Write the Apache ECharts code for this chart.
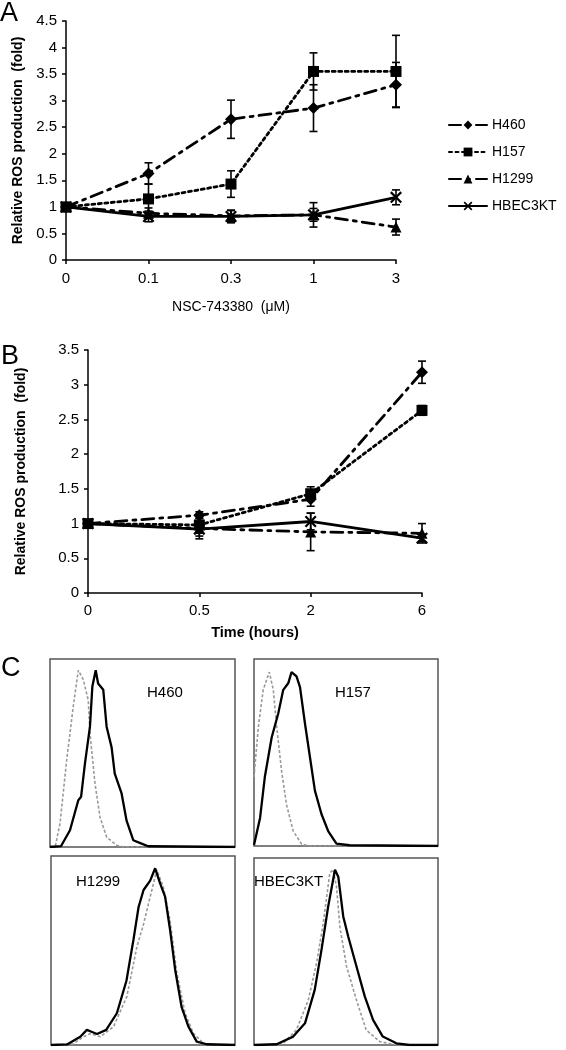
<!DOCTYPE html>
<html><head><meta charset="utf-8">
<script src="https://cdn.jsdelivr.net/npm/echarts@6/dist/echarts.min.js"></script>
<style>html,body{margin:0;padding:0;background:#fff}#c{width:566px;height:1050px}</style>
</head><body><div id="c"></div>
<script>
// ---------- Panel A: dose response ----------
const catsA = ['0', '0.1', '0.3', '1', '3'];
const aH460 = [1.0, 1.63, 2.65, 2.86, 3.3];
const aH157 = [1.0, 1.15, 1.43, 3.55, 3.55];
const aH1299 = [1.0, 0.88, 0.83, 0.85, 0.62];
const aHBEC = [1.0, 0.82, 0.82, 0.85, 1.18];
const aErrH460 = [0, 0.2, 0.36, 0.44, 0.42];
const aErrH157 = [0, 0.28, 0.25, 0.35, 0.68];
const aErrH1299 = [0, 0.1, 0.1, 0.12, 0.15];
const aErrHBEC = [0, 0.1, 0.12, 0.23, 0.14];

// ---------- Panel B: time course ----------
const catsB = ['0', '0.5', '2', '6'];
const bH460 = [1.0, 1.12, 1.35, 3.18];
const bH157 = [1.0, 0.98, 1.43, 2.63];
const bH1299 = [1.0, 0.93, 0.88, 0.86];
const bHBEC = [1.0, 0.92, 1.03, 0.79];
const bErrH460 = [0, 0.05, 0.1, 0.16];
const bErrH157 = [0, 0.05, 0.1, 0.07];
const bErrH1299 = [0, 0.15, 0.27, 0.14];
const bErrHBEC = [0, 0.1, 0.12, 0.05];

const seriesNames = ['H460', 'H157', 'H1299', 'HBEC3KT'];

// ---------- Panel C: flow histograms (relative fluorescence, relative count) ----------
const cH460Treated = [[0,0],[6,0.5],[10.8,8.9],[15.3,24.9],[16.8,26.7],[18.9,44.5],[21.6,64],[22.9,85.4],[24.7,94],[26,87],[28.8,83.6],[30.6,64],[33.3,53],[35,39],[38.7,28.5],[41.4,14],[45,3.6],[49.5,1.8],[53,0.4],[100,0]];
const cH460Control = [[0,0],[3,1],[5.4,12.5],[9,46],[12.6,75],[15.3,94],[18,89],[20.7,78],[21.6,60.5],[24.3,34],[27,16],[30.6,5.3],[36,0.9],[40,0],[100,0]];
const cH157Treated = [[0,0.5],[0.5,1],[3.3,15],[5.9,37],[9.6,58],[13.2,71],[15.9,83.5],[18.6,87],[20.4,93],[23.1,90.7],[25,85],[27.7,65.5],[30.4,47.6],[33.1,29.6],[36.7,17],[40.3,8],[44.8,1.3],[52,0.4],[100,0]];
const cH157Control = [[0,37],[2.4,64],[5,83.5],[8.3,93],[10.5,83.5],[12.3,64],[15,40],[17.7,22],[21.3,8],[25.9,1],[30,0],[100,0]];
const cH1299Treated = [[0,0],[8.7,0.3],[15.9,4.4],[19.5,8],[22,7],[25,5.8],[30,8],[35.8,16.8],[41,34],[44.8,55.6],[47.6,73],[50.3,82],[53.9,87],[56.6,93.5],[59.3,85.5],[62,78.5],[64.7,61],[67.5,39.7],[71,20],[74.7,9.7],[79.2,1.8],[84.6,0.4],[100,0]];
const cH1299Control = [[0,0],[12,0.5],[17.7,4.4],[21.3,6],[26.8,4.4],[34,9.7],[41.2,25.6],[46.7,52],[50.3,64],[54.8,82],[57.5,92.6],[61,83.8],[64.7,66],[68.4,38],[72.9,16.8],[77.4,6.2],[82.8,0.9],[90,0],[100,0]];
const cHBECTreated = [[0,0],[12.3,0.4],[21.3,4.5],[27.7,11.6],[33,29.5],[36.7,51],[40.3,74],[42,83],[44,93.75],[45.8,90],[48.5,68.75],[51.2,58],[55.7,42],[60.2,26],[64.7,13.4],[70,4.5],[77.4,0.9],[84.6,0],[100,0]];
const cHBECControl = [[0,0],[10,0.2],[15.9,0.9],[23,8],[29.5,24],[34,43.75],[37.6,65],[41.2,92],[43,93.75],[44.8,85],[46.7,63],[50.3,42],[55.7,24],[61,8],[68.4,1.8],[75.6,0.4],[82,0],[100,0]];
const cLabels = ['H460', 'H157', 'H1299', 'HBEC3KT'];

const FONT = 'Liberation Sans, Arial, Helvetica, sans-serif';
const chart = echarts.init(document.getElementById('c'), null, {renderer: 'canvas'});

const xShape = 'path://M0,1.3 L1.3,0 L5,3.7 L8.7,0 L10,1.3 L6.3,5 L10,8.7 L8.7,10 L5,6.3 L1.3,10 L0,8.7 L3.7,5 Z';
const styles = {
  'H460':   {type: [12, 6, 3, 6], symbol: 'diamond', size: 12},
  'H157':   {type: [3, 3.5], symbol: 'rect', size: 11},
  'H1299':  {type: [12, 6, 3, 6], symbol: 'triangle', size: 11},
  'HBEC3KT':{type: 'solid', symbol: xShape, size: 12}
};

function lineSeries(name, data, gi) {
  const s = styles[name];
  return {
    name: name, type: 'line', xAxisIndex: gi, yAxisIndex: gi, data: data,
    symbol: s.symbol, symbolSize: s.size, showSymbol: true,
    lineStyle: {color: '#000', width: 2.8, type: s.type, cap: 'round'},
    itemStyle: {color: '#000'}, z: 3, animation: false
  };
}
function errSeries(vals, errs, gi) {
  return {
    type: 'custom', xAxisIndex: gi, yAxisIndex: gi, z: 2, animation: false,
    encode: {x: 0, y: 1},
    data: vals.map((v, i) => [i, v, errs[i]]),
    renderItem: function (params, api) {
      const e = api.value(2);
      if (!e) return null;
      const x = api.value(0), y = api.value(1);
      const t = api.coord([x, y + e]);
      const b = api.coord([x, y - e]);
      const w = 4;
      const st = {stroke: '#000', lineWidth: 1.6};
      return {type: 'group', children: [
        {type: 'line', shape: {x1: t[0], y1: t[1], x2: b[0], y2: b[1]}, style: st},
        {type: 'line', shape: {x1: t[0] - w, y1: t[1], x2: t[0] + w, y2: t[1]}, style: st},
        {type: 'line', shape: {x1: b[0] - w, y1: b[1], x2: b[0] + w, y2: b[1]}, style: st}
      ]};
    }
  };
}
function histSeries(data, gi, treated) {
  return {
    type: 'line', xAxisIndex: gi, yAxisIndex: gi, data: data, symbol: 'none', animation: false,
    silent: true, z: treated ? 3 : 2,
    lineStyle: treated ? {color: '#000', width: 2.3} : {color: '#999', width: 1.6, type: [3, 2]}
  };
}

const axisLine = {lineStyle: {color: '#000', width: 1.5}};
const axisTick = {length: 4, lineStyle: {color: '#000', width: 1.5}};
const lbl = {color: '#000', fontSize: 15, fontFamily: FONT};

const grids = [
  {left: 66, top: 21, width: 330, height: 239},
  {left: 88, top: 350, width: 334, height: 243},
  {left: 50, top: 659, width: 185, height: 188, show: true, borderColor: '#555', borderWidth: 1.5},
  {left: 254, top: 659, width: 184, height: 187, show: true, borderColor: '#555', borderWidth: 1.5},
  {left: 51, top: 856, width: 184, height: 189, show: true, borderColor: '#555', borderWidth: 1.5},
  {left: 254, top: 858, width: 184, height: 187, show: true, borderColor: '#555', borderWidth: 1.5}
];

const xAxes = [
  {gridIndex: 0, type: 'category', data: catsA, boundaryGap: false, axisLine, axisTick,
   axisLabel: Object.assign({margin: 11}, lbl), name: 'NSC-743380  (μM)', nameLocation: 'middle', nameGap: 40,
   nameTextStyle: {color: '#000', fontSize: 14, fontFamily: FONT}},
  {gridIndex: 1, type: 'category', data: catsB, boundaryGap: false, axisLine, axisTick,
   axisLabel: Object.assign({margin: 10}, lbl), name: 'Time (hours)', nameLocation: 'middle', nameGap: 32,
   nameTextStyle: {color: '#000', fontSize: 14.5, fontWeight: 'bold', fontFamily: FONT}}
];
const yAxes = [
  {gridIndex: 0, type: 'value', min: 0, max: 4.5, interval: 0.5, axisLine: Object.assign({show: true}, axisLine), axisTick: Object.assign({show: true}, axisTick),
   splitLine: {show: false}, axisLabel: Object.assign({margin: 9}, lbl),
   name: 'Relative ROS production  (fold)', nameLocation: 'middle', nameGap: 41, nameRotate: 90,
   nameTextStyle: {color: '#000', fontSize: 14, fontWeight: 'bold', fontFamily: FONT}},
  {gridIndex: 1, type: 'value', min: 0, max: 3.5, interval: 0.5, axisLine: Object.assign({show: true}, axisLine), axisTick: Object.assign({show: true}, axisTick),
   splitLine: {show: false}, axisLabel: Object.assign({margin: 9}, lbl),
   name: 'Relative ROS production  (fold)', nameLocation: 'middle', nameGap: 60, nameRotate: 90,
   nameTextStyle: {color: '#000', fontSize: 14, fontWeight: 'bold', fontFamily: FONT}}
];
for (let g = 2; g < 6; g++) {
  xAxes.push({gridIndex: g, type: 'value', min: 0, max: 100, show: false});
  yAxes.push({gridIndex: g, type: 'value', min: 0, max: 100, show: false});
}

const series = [
  lineSeries('H460', aH460, 0), lineSeries('H157', aH157, 0), lineSeries('H1299', aH1299, 0), lineSeries('HBEC3KT', aHBEC, 0),
  errSeries(aH460, aErrH460, 0), errSeries(aH157, aErrH157, 0), errSeries(aH1299, aErrH1299, 0), errSeries(aHBEC, aErrHBEC, 0),
  lineSeries('H460', bH460, 1), lineSeries('H157', bH157, 1), lineSeries('H1299', bH1299, 1), lineSeries('HBEC3KT', bHBEC, 1),
  errSeries(bH460, bErrH460, 1), errSeries(bH157, bErrH157, 1), errSeries(bH1299, bErrH1299, 1), errSeries(bHBEC, bErrHBEC, 1),
  histSeries(cH460Control, 2, false), histSeries(cH460Treated, 2, true),
  histSeries(cH157Control, 3, false), histSeries(cH157Treated, 3, true),
  histSeries(cH1299Control, 4, false), histSeries(cH1299Treated, 4, true),
  histSeries(cHBECControl, 5, false), histSeries(cHBECTreated, 5, true)
];

const labelPos = [[147, 693], [335, 693], [76, 882], [254, 882]];
const graphic = [
  {type: 'text', left: 0, top: 0, style: {text: 'A', font: '27px ' + FONT, fill: '#000'}},
  {type: 'text', left: 1, top: 343, style: {text: 'B', font: '27px ' + FONT, fill: '#000'}},
  {type: 'text', left: 1, top: 655, style: {text: 'C', font: '27px ' + FONT, fill: '#000'}}
].concat(cLabels.map((t, i) => ({type: 'text', x: labelPos[i][0], y: labelPos[i][1],
  style: {text: t, font: '15px ' + FONT, fill: '#000', textVerticalAlign: 'middle'}})));

chart.setOption({
  backgroundColor: '#fff',
  animation: false,
  textStyle: {fontFamily: FONT},
  grid: grids, xAxis: xAxes, yAxis: yAxes, series: series, graphic: graphic,
  legend: {
    data: seriesNames, orient: 'vertical', left: 448, top: 118, itemWidth: 38, itemHeight: 11, itemGap: 13,
    padding: 0, textStyle: {color: '#000', fontSize: 14, fontFamily: FONT}, selectedMode: false
  }
});
</script></body></html>
